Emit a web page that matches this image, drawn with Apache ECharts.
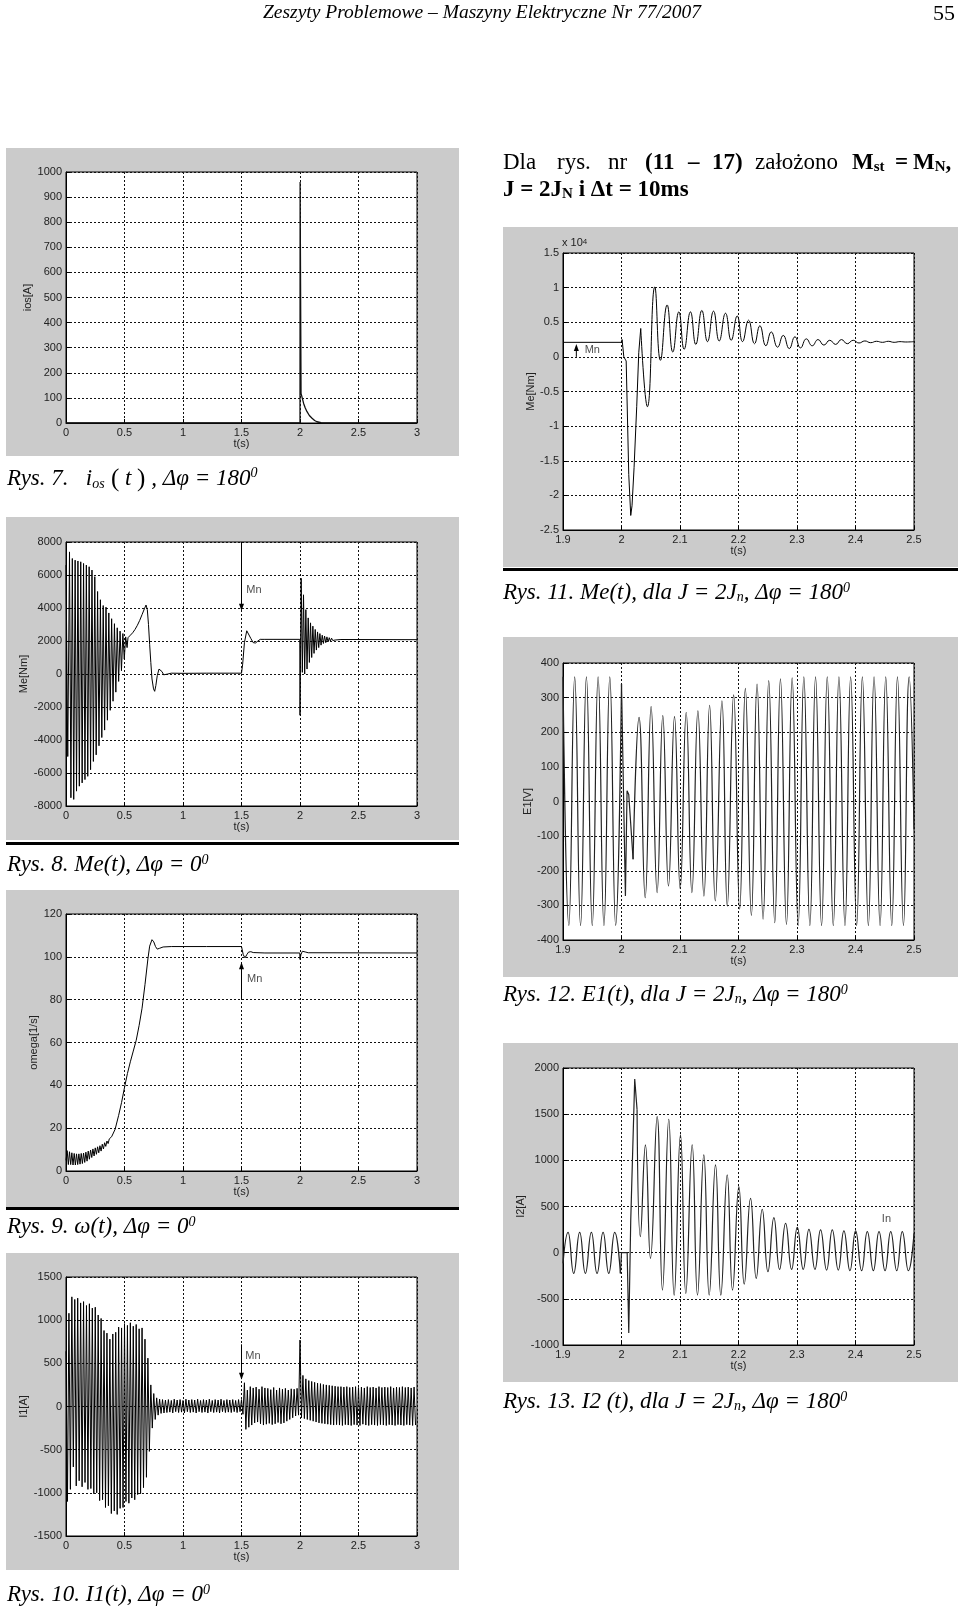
<!DOCTYPE html>
<html>
<head>
<meta charset="utf-8">
<title>Rys. 7 - 13</title>
<script src="https://cdn.jsdelivr.net/npm/echarts@6/dist/echarts.min.js"></script>
<style>
  html, body { margin: 0; padding: 0; background: #fff; }
  #page { width: 960px; height: 1607px; }
</style>
</head>
<body>
<div id="page"></div>
<script>
// values

// Rys. 7  ios(t)
const ios7T = [0, 2.0, 2.001, 2.004, 2.009, 2.02, 2.031, 2.045, 2.06, 2.08, 2.103, 2.125, 2.145, 2.18, 2.22, 3]
const ios7V = [0, 0, 960, 955, 118, 98, 78, 60, 45, 30, 19, 10, 5, 1, 0, 0]

// Rys. 8  Me(t), dphi = 0
const me8T = [
  0, 0.015, 0.03, 0.042, 0.054, 0.066, 0.078, 0.09, 0.102, 0.114, 0.126, 0.138, 0.15, 0.162, 0.174, 0.186,
  0.198, 0.21, 0.222, 0.234, 0.246, 0.258, 0.27, 0.282, 0.294, 0.306, 0.318, 0.33, 0.342, 0.354, 0.366, 0.378,
  0.39, 0.402, 0.414, 0.426, 0.438, 0.45, 0.462, 0.474, 0.486, 0.498, 0.51, 0.522,
  0.53, 0.55, 0.57, 0.59, 0.61, 0.63, 0.65, 0.67, 0.684, 0.695, 0.705, 0.715, 0.725, 0.735, 0.748, 0.758,
  0.768, 0.78, 0.795, 0.805, 0.82, 0.835, 0.85, 0.87, 0.9, 1.0, 1.2, 1.4, 1.5,
  1.51, 1.525, 1.545, 1.56, 1.58, 1.6, 1.62, 1.64, 1.66, 1.7, 1.998,
  2.0, 2.01, 2.02, 2.03, 2.04, 2.05, 2.06, 2.07, 2.08, 2.09, 2.1, 2.11, 2.12, 2.13, 2.14, 2.15, 2.16, 2.17,
  2.18, 2.19, 2.2, 2.21, 2.22, 2.23, 2.24, 2.25, 2.26, 2.27, 2.28, 2.29, 2.3, 2.35, 3.0
]
const me8V = [
  6600, -5000, 7400, -7500, 7000, -7600, 6900, -7100, 6850, -6800, 6800, -6600, 6700, -6400, 6600, -6200,
  6500, -5800, 6300, -5300, 5900, -4900, 5000, -4350, 4500, -3850, 4150, -3400, 4050, -2800, 3700, -2200,
  3350, -1650, 3050, -1100, 2800, -450, 2600, 200, 2450, 900, 2250, 1600,
  2200, 2350, 2500, 2700, 2950, 3250, 3600, 3950, 4180, 3900, 3000, 1800, 700, -300, -900, -1050,
  -700, -100, 300, 330, 150, -50, -80, 0, 50, 40, 50, 50, 50,
  600, 1900, 2620, 2500, 2150, 1900, 1880, 2000, 2100, 2100, 2100,
  -2500, 5800, 100, 4800, 0, 3900, 300, 3400, 700, 3100, 1000, 2900, 1250, 2700, 1450, 2550, 1600, 2450,
  1750, 2350, 1850, 2300, 1900, 2250, 1950, 2200, 2000, 2170, 2030, 2130, 2060, 2090, 2080
]

// Rys. 9  omega(t), dphi = 0
const om9T = [
  0, 0.01, 0.02, 0.03, 0.04, 0.05, 0.06, 0.07, 0.08, 0.09, 0.1, 0.11, 0.12, 0.13, 0.14, 0.15, 0.16, 0.17,
  0.18, 0.19, 0.2, 0.21, 0.22, 0.23, 0.24, 0.25, 0.26, 0.27, 0.28, 0.29, 0.3, 0.31, 0.32, 0.33, 0.34, 0.35,
  0.36, 0.37, 0.38, 0.39, 0.4,
  0.42, 0.45, 0.475, 0.5, 0.525, 0.55, 0.575, 0.6, 0.625, 0.65, 0.675, 0.7,
  0.715, 0.735, 0.75, 0.765, 0.78, 0.8, 0.83, 0.9, 1.2, 1.5,
  1.515, 1.53, 1.545, 1.56, 1.58, 1.6, 1.7, 1.998,
  2.0, 2.008, 2.02, 2.035, 2.05, 2.07, 3.0
]
const om9V = [
  5, 9.5, 3, 9, 3, 8.5, 2.8, 8.2, 2.8, 8, 3, 8, 3.2, 8.2, 3.5, 8.4, 4, 8.8,
  4.6, 9.3, 5.5, 9.8, 6.3, 10.3, 7, 10.8, 7.8, 11.3, 8.5, 11.8, 9.3, 12.5, 10.3, 13.2, 11.5, 14,
  12.8, 15, 14.3, 16, 16.2,
  19.5, 26, 32, 39, 45.5, 51, 56, 61, 68, 76, 87, 99,
  105, 108, 107, 104.8, 103.6, 104, 104.6, 104.8, 104.8, 104.8,
  101, 99.5, 101, 102.2, 102.4, 102, 101.8, 101.8,
  98.8, 101, 102.6, 103, 102.2, 101.9, 101.8
]

// Rys. 10  I1(t), dphi = 0 : upper and lower swing of each visible cycle
const i1Step = 0.025
const i1Hi = [
  640, 1080, 1270, 1240, 1255, 1200, 1215, 1170, 1190, 1140, 1150, 1060, 1020, 880, 850, 780, 840, 860, 920, 910,
  960, 940, 970, 930, 950, 900, 910, 780, 560, 250,
  150, 100, 85, 80, 75, 80, 70, 85, 75, 80, 70, 85, 75, 80, 75, 85, 70, 80, 75, 85,
  70, 80, 75, 85, 70, 80, 75, 80, 70, 80,
  80, 275, 190, 230, 215, 225, 200, 230, 215, 210, 195, 220, 190, 215, 200, 210, 190, 205, 200, 210,
  770, 360, 320, 300, 290, 280, 270, 265, 255, 250, 245, 240, 235, 230, 230, 225, 230, 220, 225, 230,
  220, 225, 215, 230, 220, 225, 215, 230, 220, 225, 220, 230, 215, 225, 220, 230, 220, 225, 215, 225
]
const i1Lo = [
  -1100, -960, -700, -920, -860, -930, -880, -960, -950, -1010, -1000, -1090, -1080, -1170, -1150, -1240, -1210, -1250, -1180, -1170,
  -1100, -1120, -1060, -1080, -1020, -1010, -940, -820, -520, -250,
  -150, -100, -80, -75, -70, -65, -75, -60, -70, -65, -75, -60, -70, -65, -75, -60, -70, -65, -75, -60,
  -70, -65, -75, -60, -70, -65, -70, -60, -70, -60,
  -90, -265, -240, -215, -190, -180, -200, -215, -205, -195, -210, -200, -185, -200, -190, -170, -150, -130, -110, -100,
  -130, -140, -150, -160, -170, -180, -190, -195, -200, -205, -210, -215, -210, -215, -220, -210, -215, -220, -210, -215,
  -220, -205, -215, -220, -210, -215, -220, -210, -215, -220, -210, -215, -220, -210, -215, -220, -210, -215, -220, -215
]

// Rys. 11  Me(t), J = 2Jn, dphi = 180  [Nm]
const me11T = [
  1.9, 2.0, 2.001, 2.004, 2.008, 2.0124, 2.0158, 2.018, 2.0215, 2.026, 2.0295, 2.0329, 2.0443, 2.0569, 2.0666,
  2.078, 2.0877, 2.098, 2.1071, 2.1179, 2.127, 2.1373, 2.147, 2.1573, 2.167, 2.1778, 2.1875, 2.1978, 2.2069,
  2.2172, 2.2274, 2.2366, 2.2468, 2.256, 2.2668, 2.2765, 2.2868, 2.2965, 2.306, 2.316, 2.326, 2.336, 2.346,
  2.356, 2.366, 2.376, 2.386, 2.396, 2.406, 2.416, 2.426, 2.436, 2.446, 2.456, 2.466, 2.476, 2.486, 2.5
]
const me11V = [
  2100, 2100, 2500, 0, -600, -17000, -22900, -21500, -16000, -7200, 600, 4100, -7200, 10100, -500,
  7500, 700, 6500, 1100, 6500, 1800, 6700, 2200, 6600, 2300, 6300, 2400, 5900, 2200,
  5300, 1900, 4500, 1600, 3600, 1400, 3100, 1200, 2900, 1300, 2600, 1600, 2500, 1700,
  2400, 1800, 2500, 1900, 2400, 2000, 2300, 2050, 2250, 2100, 2250, 2100, 2200, 2150, 2200
]

// Rys. 12  E1(t), J = 2Jn, dphi = 180
const e12T = [
  1.9, 1.91, 1.92, 1.93, 1.94, 1.95, 1.96, 1.97, 1.98, 1.99, 2.0, 2.0067, 2.0095, 2.0124, 2.0198,
  2.03, 2.0405, 2.0506, 2.0609, 2.0706, 2.0803, 2.0906, 2.1003, 2.1106, 2.1203, 2.1306, 2.1409, 2.1506,
  2.1603, 2.1717, 2.1808, 2.1917, 2.202, 2.2117, 2.222, 2.2317, 2.242, 2.2517, 2.262, 2.2717, 2.282,
  2.2917, 2.302, 2.3117, 2.322, 2.3317, 2.342, 2.3517, 2.362, 2.3717, 2.382, 2.3917, 2.402, 2.4117,
  2.422, 2.4317, 2.442, 2.4517, 2.462, 2.4717, 2.482, 2.4917, 2.5
]
const e12V = [
  360, -358, 360, -358, 360, -358, 360, -358, 360, -358, 340, -273, 31, 20, -167,
  243, -278, 274, -263, 248, -244, 245, -252, 257, -263, 262, -273, 278,
  -287, 291, -302, 308, -311, 327, -329, 339, -340, 349, -350, 354, -355,
  357, -358, 360, -358, 360, -358, 360, -358, 360, -358, 360, -358, 360,
  -358, 360, -358, 360, -358, 360, -358, 360, -80
]

// Rys. 13  I2(t), J = 2Jn, dphi = 180
const i2T = [
  1.9, 1.9086, 1.9183, 1.9285, 1.9382, 1.9485, 1.9582, 1.9685, 1.9782, 1.9884, 1.9981,
  2.0, 2.0097, 2.0124, 2.0158, 2.0226, 2.0266, 2.0323, 2.0409, 2.0495, 2.0609, 2.07, 2.0808, 2.09,
  2.1008, 2.1099, 2.1208, 2.1299, 2.1407, 2.1499, 2.1607, 2.1698, 2.1807, 2.1898, 2.2006, 2.2098,
  2.2206, 2.2303, 2.2406, 2.2503, 2.2605, 2.2702, 2.2805, 2.2908, 2.3005, 2.3107, 2.3204, 2.3307,
  2.3403, 2.3506, 2.3603, 2.3706, 2.3802, 2.3905, 2.4002, 2.4105, 2.4202, 2.4305, 2.4402, 2.4505,
  2.4602, 2.4705, 2.48, 2.4904, 2.5
]
const i2V = [
  -116, 220, -224, 220, -224, 220, -224, 220, -224, 220, -224,
  0, 0, -870, 350, 1880, 1550, 173, 1167, -61, 1475, -405, 1445, -459,
  1276, -441, 1167, -459, 1059, -459, 950, -459, 842, -405, 716, -340,
  589, -278, 470, -206, 380, -181, 318, -181, 275, -181, 253, -181,
  246, -188, 246, -188, 235, -195, 235, -195, 228, -195, 228, -195,
  228, -195, 228, -195, 210
]

// annotations (data coordinates)
const mn8Arrow = [[1.5, 8000], [1.5, 4050]]
const mn8Text = [1.541, 5080]
const mn9Arrow = [[1.5, 80.5], [1.5, 95.8]]
const mn9Text = [1.547, 89.7]
const mn10Arrow = [[1.5, 720], [1.5, 350]]
const mn10Text = [1.533, 590]
const mn11Arrow = [[1.9228, 0], [1.9228, 1350]]
const mn11Text = [1.937, 960]
const in13Text = [2.445, 361]

const sans = '"Liberation Sans", Arial, sans-serif'
const serif = '"Liberation Serif", "Times New Roman", serif'

// page layout
const panels = [
  { x: 6, y: 148, w: 453, h: 308 },
  { x: 6, y: 517, w: 453, h: 323, rule: 842 },
  { x: 6, y: 890, w: 453, h: 317, rule: 1207 },
  { x: 6, y: 1253, w: 453, h: 317 },
  { x: 503, y: 227, w: 455, h: 340, rule: 568 },
  { x: 503, y: 637, w: 455, h: 340 },
  { x: 503, y: 1043, w: 455, h: 339 }
]
const plots = [
  { box: [66, 172, 351, 251], x: [0, 3, 0.5], y: [0, 1000, 100], name: 'ios[A]', gap: 32 },
  { box: [66, 542, 351, 264], x: [0, 3, 0.5], y: [-8000, 8000, 2000], name: 'Me[Nm]', gap: 35 },
  { box: [66, 914, 351, 257], x: [0, 3, 0.5], y: [0, 120, 20], name: 'omega[1/s]', gap: 27 },
  { box: [66, 1277, 351, 259], x: [0, 3, 0.5], y: [-1500, 1500, 500], name: 'I1[A]', gap: 35 },
  { box: [563, 253, 351, 277], x: [1.9, 2.5, 0.1], y: [-25000, 15000, 5000], name: 'Me[Nm]', gap: 27, scale: 1e4 },
  { box: [563, 663, 351, 277], x: [1.9, 2.5, 0.1], y: [-400, 400, 100], name: 'E1[V]', gap: 29 },
  { box: [563, 1068, 351, 277], x: [1.9, 2.5, 0.1], y: [-1000, 2000, 500], name: 'I2[A]', gap: 34 }
]

const toPairs = (T, V, a = 0, b = T.length - 1) => {
  const out = []
  for (let i = a; i <= b; i++) out.push([T[i], V[i]])
  return out
}
const zigzag = (t0, step, hi, lo) => {
  const out = []
  for (let k = 0; k < hi.length; k++) {
    out.push([t0 + k * step, hi[k]])
    out.push([t0 + (k + 0.5) * step, lo[k]])
  }
  return out
}

const tickFmt = (v) => String(+v.toFixed(2))
const axisText = { color: '#222', fontSize: 11, fontFamily: sans }
const gridLine = { show: true, lineStyle: { color: '#111', width: 1, type: [2, 2] } }

const grid = plots.map((p) => ({
  left: p.box[0], top: p.box[1], width: p.box[2], height: p.box[3],
  show: true, backgroundColor: '#fff', borderColor: '#000', borderWidth: 1
}))
const xAxis = plots.map((p, i) => ({
  gridIndex: i, type: 'value', min: p.x[0], max: p.x[1], interval: p.x[2],
  axisLine: { onZero: false, lineStyle: { color: '#000' } },
  axisTick: { inside: true, length: 4, lineStyle: { color: '#000' } },
  axisLabel: { ...axisText, margin: 4, formatter: tickFmt },
  splitLine: gridLine,
  name: 't(s)', nameLocation: 'middle', nameGap: 15, nameTextStyle: axisText
}))
const yAxis = plots.map((p, i) => ({
  gridIndex: i, type: 'value', min: p.y[0], max: p.y[1], interval: p.y[2],
  axisLine: { onZero: false, lineStyle: { color: '#000' } },
  axisTick: { inside: true, length: 4, lineStyle: { color: '#000' } },
  axisLabel: { ...axisText, margin: 4, formatter: (v) => tickFmt(p.scale ? v / p.scale : v) },
  splitLine: gridLine,
  name: p.name, nameLocation: 'middle', nameGap: p.gap, nameTextStyle: axisText
}))

const line = (gi, data, extra = {}) => ({
  type: 'line', xAxisIndex: gi, yAxisIndex: gi, data, symbol: 'none', showSymbol: false,
  silent: true, animation: false, z: 3,
  lineStyle: { color: '#000', width: 1 }, ...extra
})
const arrow = (gi, ends, up) => ({
  type: 'line', xAxisIndex: gi, yAxisIndex: gi, silent: true, animation: false, z: 4,
  showSymbol: true,
  data: [
    { value: ends[0], symbol: 'none' },
    { value: ends[1], symbol: 'triangle', symbolSize: [5, 7], symbolRotate: up ? 0 : 180 }
  ],
  lineStyle: { color: '#000', width: 1 }, itemStyle: { color: '#000' }
})
const note = (gi, at, text) => ({
  type: 'scatter', xAxisIndex: gi, yAxisIndex: gi, silent: true, animation: false, z: 4,
  data: [at], symbolSize: 0,
  label: { show: true, position: 'right', distance: 0, formatter: text, ...axisText }
})

const wave = { color: '#222', width: 1.2 }
const series = [
  line(0, toPairs(ios7T, ios7V), { lineStyle: { color: '#111', width: 1.3 } }),

  line(1, toPairs(me8T, me8V)),
  arrow(1, mn8Arrow, false),
  note(1, mn8Text, 'Mn'),

  line(2, toPairs(om9T, om9V)),
  arrow(2, mn9Arrow, true),
  note(2, mn9Text, 'Mn'),

  line(3, zigzag(0, i1Step, i1Hi, i1Lo)),
  arrow(3, mn10Arrow, false),
  note(3, mn10Text, 'Mn'),

  line(4, toPairs(me11T, me11V, 0, 11)),
  line(4, toPairs(me11T, me11V, 11, me11T.length - 1), { smooth: 0.5 }),
  arrow(4, mn11Arrow, true),
  note(4, mn11Text, 'Mn'),

  line(5, toPairs(e12T, e12V, 0, 10), { smooth: 0.5, lineStyle: wave }),
  line(5, toPairs(e12T, e12V, 10, 14), { lineStyle: wave }),
  line(5, toPairs(e12T, e12V, 14, e12T.length - 1), { smooth: 0.5, lineStyle: wave }),

  line(6, toPairs(i2T, i2V, 0, 10), { smooth: 0.5, lineStyle: wave }),
  line(6, toPairs(i2T, i2V, 10, 16), { lineStyle: wave }),
  line(6, toPairs(i2T, i2V, 16, i2T.length - 1), { smooth: 0.5, lineStyle: wave }),
  note(6, in13Text, 'In')
]

// text styles for the page (serif, like the printed paper)
const capRich = {
  i: { fontFamily: serif, fontStyle: 'italic', fontSize: 23, fill: '#000' },
  r: { fontFamily: serif, fontSize: 25, fill: '#000' },
  sp: { fontFamily: serif, fontStyle: 'italic', fontSize: 14, fill: '#000', verticalAlign: 'top' },
  sb: { fontFamily: serif, fontStyle: 'italic', fontSize: 14, fill: '#000', verticalAlign: 'bottom' }
}
const parRich = {
  n: { fontFamily: serif, fontSize: 23, fill: '#000' },
  b: { fontFamily: serif, fontWeight: 'bold', fontSize: 23, fill: '#000' },
  bs: { fontFamily: serif, fontWeight: 'bold', fontSize: 15, fill: '#000', verticalAlign: 'bottom' }
}
const text = (x, y, str, rich, align = 'left') => ({
  type: 'text', x, y, z: 5,
  style: { text: str, rich, align, textAlign: align, verticalAlign: 'middle', textVerticalAlign: 'middle' }
})

const captions = [
  [7, 479, '{i|Rys. 7.   i}{sb|os}{r| (}{i| t }{r|)}{i| , Δφ = 180}{sp|0}'],
  [7, 865, '{i|Rys. 8. Me(t), Δφ = 0}{sp|0}'],
  [7, 1227, '{i|Rys. 9. ω(t), Δφ = 0}{sp|0}'],
  [7, 1595, '{i|Rys. 10. I1(t), Δφ = 0}{sp|0}'],
  [503, 593, '{i|Rys. 11. Me(t), dla J = 2J}{sb|n}{i|, Δφ = 180}{sp|0}'],
  [503, 995, '{i|Rys. 12. E1(t), dla J = 2J}{sb|n}{i|, Δφ = 180}{sp|0}'],
  [503, 1402, '{i|Rys. 13. I2 (t), dla J = 2J}{sb|n}{i|, Δφ = 180}{sp|0}']
]
const paragraph = [
  [503, 163, '{n|Dla}'], [557, 163, '{n|rys.}'], [608, 163, '{n|nr}'], [645, 163, '{b|(11}'],
  [688, 163, '{b|–}'], [712, 163, '{b|17)}'], [755, 163, '{n|założono}'], [852, 163, '{b|M}{bs|st}'],
  [895, 163, '{b|=}'], [913, 163, '{b|M}{bs|N}{b|,}'],
  [503, 190, '{b|J = 2J}{bs|N}{b| i Δt = 10ms}']
]

const graphic = []
panels.forEach((p) => {
  graphic.push({ type: 'rect', z: -10, shape: { x: p.x, y: p.y, width: p.w, height: p.h }, style: { fill: '#cbcbcb' } })
  if (p.rule) graphic.push({ type: 'rect', z: -10, shape: { x: p.x, y: p.rule, width: p.w, height: 3 }, style: { fill: '#000' } })
})
captions.forEach((c) => graphic.push(text(c[0], c[1], c[2], capRich)))
paragraph.forEach((c) => graphic.push(text(c[0], c[1], c[2], parRich)))
graphic.push(text(482, 13, '{h|Zeszyty Problemowe – Maszyny Elektryczne Nr 77/2007}',
  { h: { fontFamily: serif, fontStyle: 'italic', fontSize: 19.5, fill: '#000' } }, 'center'))
graphic.push(text(955, 14, '{h|55}', { h: { fontFamily: serif, fontSize: 22, fill: '#000' } }, 'right'))
graphic.push(text(562, 243, '{s|x 10}{p|4}', {
  s: { fontFamily: sans, fontSize: 11, fill: '#222' },
  p: { fontFamily: sans, fontSize: 8, fill: '#222', verticalAlign: 'top' }
}))

const chart = echarts.init(document.getElementById('page'), null, { renderer: 'canvas' })
chart.setOption({
  animation: false,
  grid, xAxis, yAxis, series,
  graphic: { elements: graphic }
})
</script>
</body>
</html>
